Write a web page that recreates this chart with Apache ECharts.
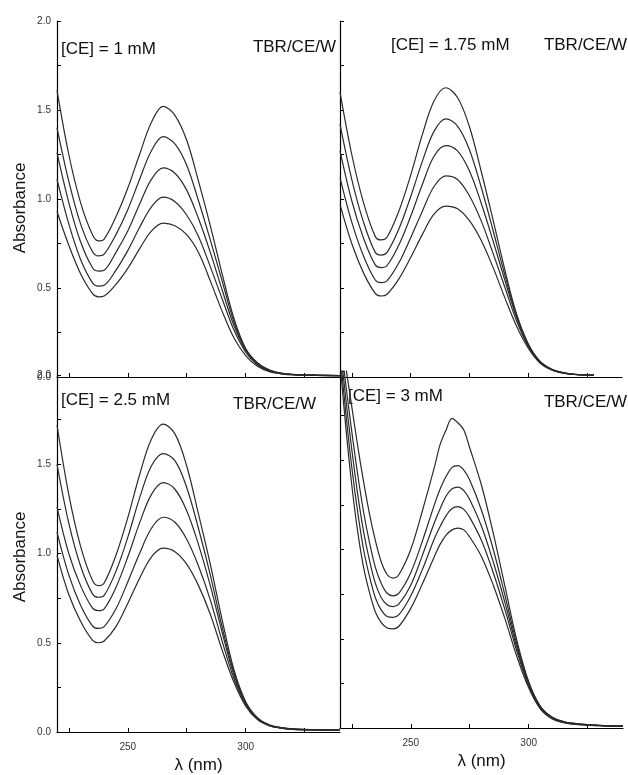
<!DOCTYPE html>
<html>
<head>
<meta charset="utf-8">
<script src="https://cdn.jsdelivr.net/npm/echarts@6/dist/echarts.min.js"></script>
<style>html,body{margin:0;padding:0;background:#fff}#c{width:628px;height:775px}</style>
</head>
<body>
<div id="c"></div>
<script>
// wavelengths (nm)
var wlTL = [220,225,230,235,237.5,240,245,250,255,260,265,270,275,280,285,290,295,300,305,310,315,320,330,340];
var wlTR = [220,225,230,235,237.5,240,245,250,255,260,265,270,275,280,285,290,295,300,305,310,315,320,328];
var wlBL = [220,225,230,235,237.5,240,245,250,255,260,265,270,275,280,285,290,295,300,305,310,315,320,330,340];
var wlBR = [220,222.5,225,227.5,230,232.5,235,237.5,240,242.5,245,250,255,260,262.5,265,267.5,270,272.5,275,280,285,290,295,300,305,310,315,320,330,340];

// [CE] = 1 mM
var tl1 = [1.61,1.25,0.98,0.80,0.765,0.775,0.90,1.06,1.25,1.43,1.52,1.47,1.33,1.10,0.85,0.58,0.33,0.16,0.08,0.04,0.022,0.015,0.01,0.008];
var tl2 = [1.40,1.10,0.86,0.705,0.68,0.69,0.80,0.94,1.11,1.27,1.35,1.31,1.19,0.99,0.77,0.54,0.31,0.155,0.075,0.038,0.021,0.014,0.01,0.008];
var tl3 = [1.26,0.98,0.76,0.615,0.595,0.60,0.70,0.82,0.97,1.11,1.175,1.145,1.05,0.89,0.70,0.49,0.29,0.15,0.072,0.036,0.02,0.014,0.01,0.008];
var tl4 = [1.11,0.86,0.66,0.53,0.51,0.515,0.60,0.71,0.84,0.955,1.01,0.985,0.91,0.79,0.62,0.44,0.265,0.14,0.068,0.034,0.019,0.013,0.009,0.007];
var tl5 = [0.93,0.74,0.58,0.47,0.45,0.455,0.52,0.61,0.72,0.82,0.865,0.85,0.80,0.70,0.54,0.37,0.22,0.12,0.06,0.03,0.018,0.012,0.009,0.007];

// [CE] = 1.75 mM
var tr1 = [1.60,1.25,0.98,0.79,0.77,0.785,0.93,1.13,1.36,1.55,1.625,1.57,1.41,1.16,0.89,0.61,0.36,0.19,0.09,0.045,0.025,0.015,0.01];
var tr2 = [1.42,1.11,0.87,0.70,0.685,0.70,0.83,1.01,1.21,1.38,1.45,1.41,1.28,1.07,0.83,0.58,0.35,0.185,0.088,0.044,0.024,0.015,0.01];
var tr3 = [1.27,0.99,0.78,0.63,0.615,0.625,0.74,0.90,1.08,1.24,1.30,1.27,1.16,0.98,0.77,0.55,0.34,0.18,0.085,0.042,0.023,0.014,0.01];
var tr4 = [1.12,0.87,0.68,0.545,0.53,0.54,0.64,0.78,0.93,1.07,1.13,1.11,1.02,0.88,0.70,0.51,0.32,0.175,0.083,0.041,0.022,0.014,0.01];
var tr5 = [0.97,0.75,0.585,0.47,0.455,0.465,0.55,0.67,0.80,0.915,0.96,0.945,0.88,0.77,0.62,0.45,0.29,0.165,0.08,0.04,0.022,0.014,0.01];

// [CE] = 2.5 mM
var bl1 = [1.72,1.33,1.04,0.85,0.82,0.835,0.99,1.20,1.44,1.64,1.725,1.67,1.49,1.22,0.94,0.63,0.35,0.17,0.08,0.04,0.025,0.018,0.013,0.01];
var bl2 = [1.50,1.17,0.93,0.775,0.755,0.765,0.90,1.09,1.31,1.49,1.56,1.52,1.37,1.14,0.88,0.59,0.335,0.165,0.078,0.039,0.024,0.017,0.012,0.01];
var bl3 = [1.26,1.00,0.82,0.695,0.68,0.69,0.81,0.98,1.17,1.33,1.397,1.36,1.24,1.05,0.82,0.56,0.32,0.16,0.075,0.038,0.023,0.016,0.012,0.01];
var bl4 = [1.12,0.88,0.71,0.595,0.58,0.59,0.69,0.84,1.00,1.14,1.203,1.175,1.08,0.93,0.74,0.51,0.30,0.155,0.072,0.036,0.022,0.015,0.011,0.009];
var bl5 = [0.99,0.77,0.62,0.515,0.50,0.51,0.59,0.72,0.86,0.98,1.03,1.01,0.94,0.82,0.66,0.46,0.28,0.145,0.07,0.035,0.021,0.015,0.011,0.009];

// [CE] = 3 mM
var br1 = [2.25,2.02,1.80,1.58,1.38,1.20,1.05,0.93,0.86,0.84,0.86,1.00,1.22,1.46,1.59,1.67,1.735,1.71,1.67,1.57,1.36,1.09,0.79,0.49,0.26,0.12,0.06,0.035,0.025,0.015,0.01];
var br2 = [2.20,1.92,1.66,1.42,1.21,1.04,0.90,0.81,0.755,0.74,0.755,0.87,1.05,1.25,1.34,1.41,1.46,1.47,1.445,1.39,1.22,1.00,0.74,0.47,0.255,0.12,0.06,0.035,0.025,0.015,0.01];
var br3 = [2.15,1.84,1.56,1.31,1.10,0.94,0.81,0.73,0.69,0.68,0.695,0.80,0.97,1.15,1.23,1.30,1.34,1.35,1.33,1.28,1.13,0.93,0.70,0.45,0.245,0.115,0.055,0.032,0.022,0.014,0.01];
var br4 = [2.10,1.76,1.46,1.21,1.00,0.85,0.73,0.66,0.625,0.62,0.635,0.74,0.89,1.06,1.13,1.19,1.23,1.24,1.225,1.18,1.05,0.87,0.66,0.43,0.235,0.11,0.055,0.03,0.02,0.013,0.01];
var br5 = [2.05,1.68,1.36,1.10,0.90,0.76,0.65,0.59,0.56,0.555,0.57,0.67,0.81,0.96,1.03,1.08,1.11,1.12,1.11,1.07,0.96,0.80,0.61,0.40,0.225,0.105,0.05,0.03,0.02,0.013,0.01];

var xTicks = [225,250,275,300,325];
var xLabels = [250,300];
var yTicks = [0,0.25,0.5,0.75,1,1.25,1.5,1.75,2];
var yLabels = [0,0.5,1,1.5,2];

var panelTexts = [
  ['[CE] = 1 mM','TBR/CE/W'],
  ['[CE] = 1.75 mM','TBR/CE/W'],
  ['[CE] = 2.5 mM','TBR/CE/W'],
  ['[CE] = 3 mM','TBR/CE/W']
];
var xName = 'λ (nm)';
var yName = 'Absorbance';

var panels = [
  {wl: wlTL, ys: [tl1,tl2,tl3,tl4,tl5]},
  {wl: wlTR, ys: [tr1,tr2,tr3,tr4,tr5]},
  {wl: wlBL, ys: [bl1,bl2,bl3,bl4,bl5]},
  {wl: wlBR, ys: [br1,br2,br3,br4,br5]}
];

var FONT = 'Liberation Sans, Arial, sans-serif';
var grids = [
  {left: 57, top: 21, width: 283, height: 356},
  {left: 340, top: 21, width: 282, height: 356},
  {left: 57, top: 375, width: 283, height: 357},
  {left: 340, top: 371, width: 283, height: 357}
];

var xAxes = [], yAxes = [], series = [];
grids.forEach(function (g, i) {
  var bottom = i >= 2;
  var left = (i % 2) === 0;
  xAxes.push({
    type: 'value', gridIndex: i, min: 220, max: 340,
    axisLine: {show: true, onZero: false, lineStyle: {color: '#000', width: 1.2}},
    axisTick: {show: true, inside: true, length: 4, customValues: xTicks, lineStyle: {color: '#000'}},
    axisLabel: {show: bottom, customValues: xLabels, fontSize: 10, color: '#333', margin: 10, fontFamily: FONT},
    splitLine: {show: false},
    name: bottom ? xName : '', nameLocation: 'middle', nameGap: 25,
    nameTextStyle: {fontSize: 17, color: '#111', fontFamily: FONT}
  });
  yAxes.push({
    type: 'value', gridIndex: i, min: 0, max: 2,
    axisLine: {show: true, onZero: false, lineStyle: {color: '#000', width: 1.2}},
    axisTick: {show: true, inside: true, length: 4, customValues: yTicks, lineStyle: {color: '#000'}},
    axisLabel: {show: left, customValues: yLabels, fontSize: 10, color: '#333', margin: 6, fontFamily: FONT,
      formatter: function (v) { return v.toFixed(1); }},
    splitLine: {show: false}
  });
  panels[i].ys.forEach(function (arr) {
    series.push({
      type: 'line', xAxisIndex: i, yAxisIndex: i,
      data: panels[i].wl.map(function (w, k) { return [w, arr[k]]; }),
      showSymbol: false, smooth: 0.35, silent: true,
      lineStyle: {color: '#2b2b2b', width: 1.2}
    });
  });
});

function txt(x, y, s, align, rot) {
  return {type: 'text', x: x, y: y, rotation: rot || 0, silent: true,
    style: {text: s, fontSize: 17, fontFamily: FONT, fill: '#111', align: align, textAlign: align,
      verticalAlign: 'middle', textVerticalAlign: 'middle'}};
}

var graphics = [
  txt(61, 49, panelTexts[0][0], 'left'),
  txt(336, 47, panelTexts[0][1], 'right'),
  txt(391, 45, panelTexts[1][0], 'left'),
  txt(627, 45, panelTexts[1][1], 'right'),
  txt(61, 400, panelTexts[2][0], 'left'),
  txt(233, 404, panelTexts[2][1], 'left'),
  txt(348, 396, panelTexts[3][0], 'left'),
  txt(627, 402, panelTexts[3][1], 'right'),
  txt(20, 208, yName, 'center', Math.PI / 2),
  txt(20, 557, yName, 'center', Math.PI / 2)
];

var chart = echarts.init(document.getElementById('c'));
chart.setOption({
  animation: false,
  backgroundColor: '#fff',
  grid: grids,
  xAxis: xAxes,
  yAxis: yAxes,
  series: series,
  graphic: graphics
});
</script>
</body>
</html>
